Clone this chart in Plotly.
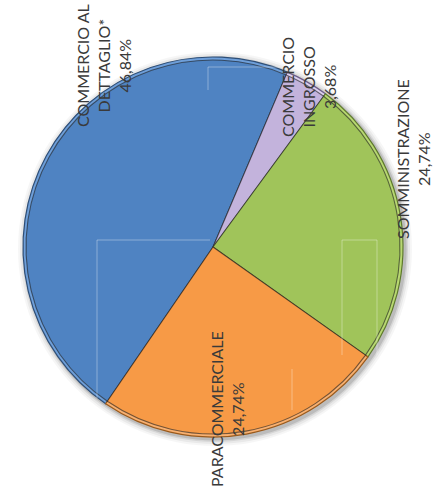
import plotly.graph_objects as go

# Shares by channel (percent)
categories = ["COMMERCIO AL<br>DETTAGLIO*", "COMMERCIO<br>INGROSSO", "SOMMINISTRAZIONE", "PARACOMMERCIALE"]
values = [46.84, 3.68, 24.74, 24.74]
colors = ["#4F83C2", "#C3B3DC", "#A0C45A", "#F79A46"]
rim_colors = ["#6E9FDA", "#DCD0EE", "#B8D871", "#F8B070"]
edge_colors = ["#2E4F78", "#6E5E8A", "#5E7A2C", "#9A5A1C"]

W, H = 434, 500
cx, cy, r = 213, 247, 190
start_angle = 214.4  # clockwise from 12 o'clock


def domain(radius, dx=0, dy=0):
    x0 = (cx + dx - radius) / W
    x1 = (cx + dx + radius) / W
    y0 = (H - (cy + dy) - radius) / H
    y1 = (H - (cy + dy) + radius) / H
    return dict(x=[x0, x1], y=[y0, y1])


fig = go.Figure()

# soft drop shadow
for grow, alpha in [(7, 0.035), (5, 0.05), (3, 0.08), (1.5, 0.12)]:
    fig.add_trace(go.Pie(values=[1], marker=dict(colors=[f"rgba(0,0,0,{alpha})"]),
                         domain=domain(r + grow, 2, 2), textinfo="none", hoverinfo="skip",
                         showlegend=False, sort=False))

# rim of the bevel
fig.add_trace(go.Pie(labels=categories, values=values, sort=False, direction="clockwise",
                     rotation=start_angle, domain=domain(r),
                     marker=dict(colors=rim_colors, line=dict(color=edge_colors, width=1.2)),
                     textinfo="none", hoverinfo="skip", showlegend=False))

# slice faces
fig.add_trace(go.Pie(labels=categories, values=values, sort=False, direction="clockwise",
                     rotation=start_angle, domain=domain(r - 3),
                     marker=dict(colors=colors, line=dict(color="rgba(30,30,30,0.6)", width=1.1)),
                     textinfo="none", showlegend=False))

# rotated labels
label_pos = [(103, 66), (309, 87), (413, 159), (227, 409)]
for cat, val, (px, py) in zip(categories, values, label_pos):
    pct = f"{val:.2f}".replace(".", ",") + "%"
    fig.add_annotation(x=px / W, y=1 - py / H, xref="paper", yref="paper",
                       text=f"{cat}<br>{pct}", showarrow=False, textangle=-90,
                       font=dict(family="Lato", size=16, color="#3A3A3A"),
                       align="center", xanchor="center", yanchor="middle")

# faint leader lines
faint = "rgba(255,255,255,0.35)"
for x0, y0, x1, y1 in [(208, 67, 208, 90), (208, 67, 285, 67), (97, 240, 210, 240),
                       (97, 240, 97, 398), (342, 240, 342, 355), (377, 240, 377, 355),
                       (342, 240, 377, 240), (292, 369, 292, 410)]:
    fig.add_shape(type="line", xref="paper", yref="paper",
                  x0=x0 / W, y0=1 - y0 / H, x1=x1 / W, y1=1 - y1 / H,
                  line=dict(color=faint, width=1))

fig.update_layout(width=W, height=H, margin=dict(l=0, r=0, t=0, b=0),
                  paper_bgcolor="white", plot_bgcolor="white", showlegend=False)

fig.write_html("out.html")
